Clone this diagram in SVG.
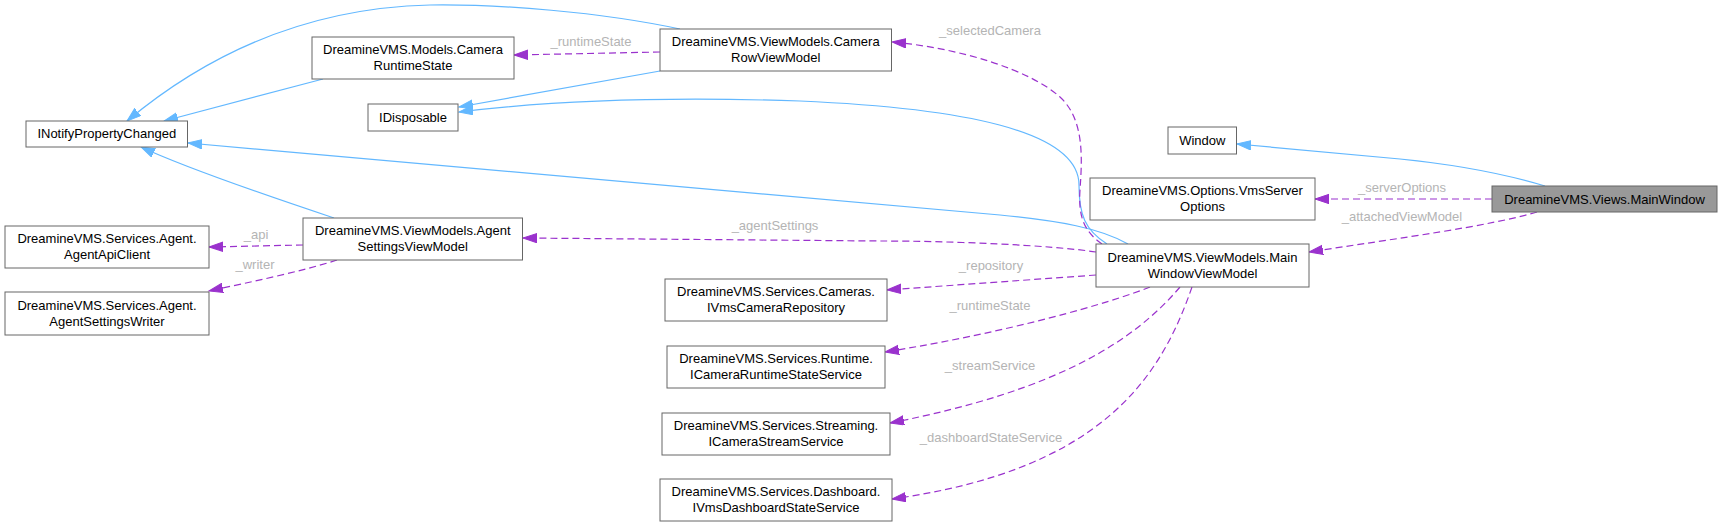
<svg xmlns="http://www.w3.org/2000/svg" width="1722" height="527" viewBox="0 0 1722 527">
<style>
text{font-family:"Liberation Sans",Arial,sans-serif;font-size:13px;fill:#000;text-anchor:middle}
.n rect{fill:#fff;stroke:#666;stroke-width:1}
.g rect{fill:#999;stroke:#666;stroke-width:1}
.inh{fill:none;stroke:#63b8ff;stroke-width:1.2;marker-end:url(#ab)}
.use{fill:none;stroke:#9a32cd;stroke-width:1.2;stroke-dasharray:7,4;marker-end:url(#ap)}
.lbl{fill:#b4b4b4}
</style>
<defs>
<marker id="ab" markerWidth="16" markerHeight="12" refX="14" refY="5" orient="auto" markerUnits="userSpaceOnUse"><path d="M0,0.3 L14,5 L0,9.7 z" fill="#63b8ff" stroke="#63b8ff" stroke-width="1"/></marker>
<marker id="ap" markerWidth="16" markerHeight="12" refX="14" refY="5" orient="auto" markerUnits="userSpaceOnUse"><path d="M0,0.3 L14,5 L0,9.7 z" fill="#9a32cd" stroke="#9a32cd" stroke-width="1"/></marker>
</defs>
<g id="edges">
<path class="inh" d="M680,29 C600,12 500,4 430,5 C300,8 200,60 127,121"/>
<path class="inh" d="M323,79 L164,121"/>
<path class="inh" d="M334,218 C280,200 190,170 141,147"/>
<path class="inh" d="M1128,244 C1100,228 1060,221 1000,215 L188,143"/>
<path class="inh" d="M660,71 L459,107"/>
<path class="inh" d="M1107,244 C1085,230 1079,215 1079,185 C1079,130 960,108 800,101 C650,96 540,102 459,112"/>
<path class="inh" d="M1545,186 C1515,177 1470,166 1400,159 L1237,144"/>
<path class="use" d="M1492,199 L1315,199"/>
<path class="use" d="M1537,212 C1490,226 1400,238 1309,252"/>
<path class="use" d="M1096,252 C1050,245 950,241 880,241 L523,238"/>
<path class="use" d="M1102,244 C1085,232 1078,218 1080,190 C1082,160 1085,120 1060,97 C1030,70 960,48 892,42"/>
<path class="use" d="M660,52 L514,55"/>
<path class="use" d="M303,245 L209,247"/>
<path class="use" d="M337,260 C300,272 250,282 209,291"/>
<path class="use" d="M1096,275 L887,290"/>
<path class="use" d="M1150,287 C1110,303 1010,332 885,352"/>
<path class="use" d="M1180,287 C1135,340 1060,390 890,423"/>
<path class="use" d="M1192,287 C1160,380 1100,470 892,499"/>
<text class="lbl" x="990" y="35">_selectedCamera</text>
<text class="lbl" x="591" y="46">_runtimeState</text>
<text class="lbl" x="775" y="230">_agentSettings</text>
<text class="lbl" x="256" y="239">_api</text>
<text class="lbl" x="255" y="269">_writer</text>
<text class="lbl" x="1402" y="192">_serverOptions</text>
<text class="lbl" x="1402" y="221">_attachedViewModel</text>
<text class="lbl" x="991" y="270">_repository</text>
<text class="lbl" x="990" y="310">_runtimeState</text>
<text class="lbl" x="990" y="370">_streamService</text>
<text class="lbl" x="991" y="442">_dashboardStateService</text>
</g>
<g id="n_inpc" class="n"><rect x="26" y="121" width="161.5" height="26"/><text x="106.75" y="138">INotifyPropertyChanged</text></g>
<g id="n_crs" class="n"><rect x="312" y="37" width="202" height="42"/><text x="413" y="54">DreamineVMS.Models.Camera</text><text x="413" y="70">RuntimeState</text></g>
<g id="n_idisp" class="n"><rect x="368" y="104" width="90" height="27"/><text x="413" y="122">IDisposable</text></g>
<g id="n_crvm" class="n"><rect x="660" y="29" width="231.5" height="42"/><text x="775.75" y="46">DreamineVMS.ViewModels.Camera</text><text x="775.75" y="62">RowViewModel</text></g>
<g id="n_window" class="n"><rect x="1168" y="127" width="68.5" height="27"/><text x="1202.25" y="145">Window</text></g>
<g id="n_vso" class="n"><rect x="1090" y="178" width="225" height="42"/><text x="1202.5" y="195">DreamineVMS.Options.VmsServer</text><text x="1202.5" y="211">Options</text></g>
<g id="n_mainwindow" class="g"><rect x="1492" y="186" width="225" height="26"/><text x="1604.5" y="203.5">DreamineVMS.Views.MainWindow</text></g>
<g id="n_mwvm" class="n"><rect x="1096" y="244" width="213" height="43"/><text x="1202.5" y="261.5">DreamineVMS.ViewModels.Main</text><text x="1202.5" y="277.5">WindowViewModel</text></g>
<g id="n_asvm" class="n"><rect x="303" y="218" width="219.5" height="42"/><text x="412.75" y="235">DreamineVMS.ViewModels.Agent</text><text x="412.75" y="251">SettingsViewModel</text></g>
<g id="n_aac" class="n"><rect x="5" y="226" width="204" height="42"/><text x="107" y="243">DreamineVMS.Services.Agent.</text><text x="107" y="259">AgentApiClient</text></g>
<g id="n_asw" class="n"><rect x="5" y="292" width="204" height="43"/><text x="107" y="309.5">DreamineVMS.Services.Agent.</text><text x="107" y="325.5">AgentSettingsWriter</text></g>
<g id="n_repo" class="n"><rect x="665" y="279" width="222" height="42"/><text x="776" y="296">DreamineVMS.Services.Cameras.</text><text x="776" y="312">IVmsCameraRepository</text></g>
<g id="n_rts" class="n"><rect x="667" y="346" width="218" height="42"/><text x="776" y="363">DreamineVMS.Services.Runtime.</text><text x="776" y="379">ICameraRuntimeStateService</text></g>
<g id="n_css" class="n"><rect x="662" y="413" width="228" height="42"/><text x="776" y="430">DreamineVMS.Services.Streaming.</text><text x="776" y="446">ICameraStreamService</text></g>
<g id="n_dss" class="n"><rect x="660" y="479" width="232" height="42"/><text x="776" y="496">DreamineVMS.Services.Dashboard.</text><text x="776" y="512">IVmsDashboardStateService</text></g>
</svg>
